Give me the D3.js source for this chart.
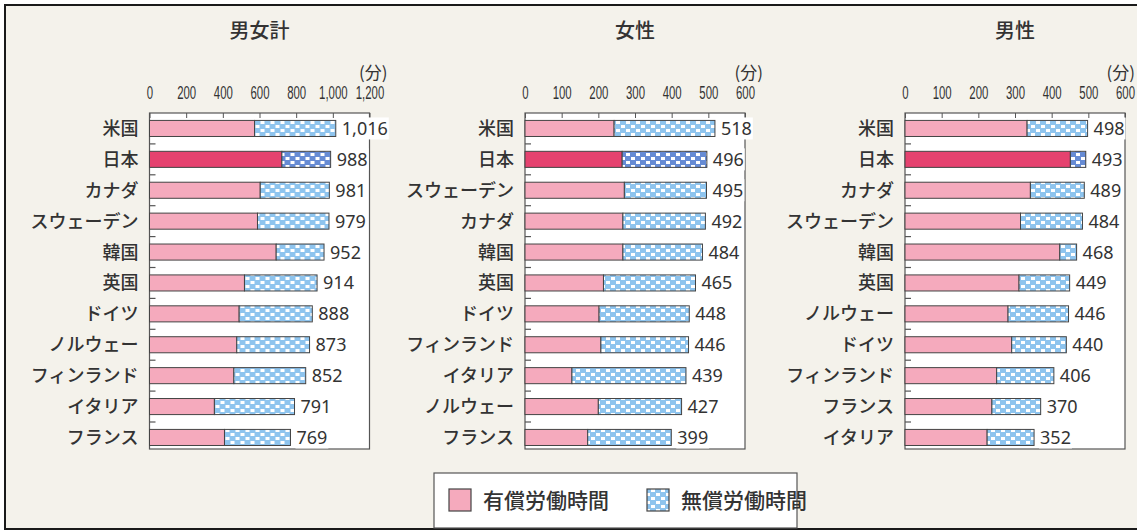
<!DOCTYPE html>
<html>
<head>
<meta charset="utf-8">
<script src="https://cdn.jsdelivr.net/npm/d3@7"></script>
<style>
  body { margin: 0; background: #fff; }
  svg { display: block; }
</style>
</head>
<body>
<div id="chart"></div>
<script>
// data (minutes per day)
const titles = ["男女計", "女性", "男性"];
const unitLabel = "(分)";

const catsAll = ["米国", "日本", "カナダ", "スウェーデン", "韓国", "英国", "ドイツ", "ノルウェー", "フィンランド", "イタリア", "フランス"];
const paidAll = [573, 722, 604, 589, 691, 518, 489, 476, 460, 354, 409];
const totalAll = [1016, 988, 981, 979, 952, 914, 888, 873, 852, 791, 769];

const catsF = ["米国", "日本", "スウェーデン", "カナダ", "韓国", "英国", "ドイツ", "フィンランド", "イタリア", "ノルウェー", "フランス"];
const paidF = [243, 265, 271, 267, 267, 214, 202, 207, 128, 200, 171];
const totalF = [518, 496, 495, 492, 484, 465, 448, 446, 439, 427, 399];

const catsM = ["米国", "日本", "カナダ", "スウェーデン", "韓国", "英国", "ノルウェー", "ドイツ", "フィンランド", "フランス", "イタリア"];
const paidM = [333, 451, 342, 315, 422, 311, 281, 291, 250, 237, 224];
const totalM = [498, 493, 489, 484, 468, 449, 446, 440, 406, 370, 352];

const ticksAll = [0, 200, 400, 600, 800, 1000, 1200];
const ticksHalf = [0, 100, 200, 300, 400, 500, 600];

const legendLabels = ["有償労働時間", "無償労働時間"];
const highlight = "日本";

const W = 1137, H = 531;
const svg = d3.select("#chart").append("svg")
  .attr("width", W).attr("height", H);

// patterns for unpaid work
const defs = svg.append("defs");
function dotPattern(id, bg) {
  const p = defs.append("pattern")
    .attr("id", id)
    .attr("patternUnits", "userSpaceOnUse")
    .attr("width", 10).attr("height", 8);
  p.append("rect").attr("width", 10).attr("height", 8).attr("fill", bg);
  p.append("rect").attr("x", 1).attr("y", 1).attr("width", 4).attr("height", 3).attr("fill", "#fff");
  p.append("rect").attr("x", 6).attr("y", 5).attr("width", 4).attr("height", 3).attr("fill", "#fff");
}
dotPattern("dotsLight", "#8ec4ee");
dotPattern("dotsDark", "#668bd4");

// background + frame
svg.append("rect").attr("width", W).attr("height", H).attr("fill", "#fff");
svg.append("rect")
  .attr("x", 5).attr("y", 5).attr("width", W + 10).attr("height", H - 7)
  .attr("fill", "#f4f2eb").attr("stroke", "#1a1a1a").attr("stroke-width", 2);

const panels = [
  {title: titles[0], cats: catsAll, paid: paidAll, total: totalAll, max: 1200, ticks: ticksAll, left: 149.5},
  {title: titles[1], cats: catsF, paid: paidF, total: totalF, max: 600, ticks: ticksHalf, left: 525},
  {title: titles[2], cats: catsM, paid: paidM, total: totalM, max: 600, ticks: ticksHalf, left: 905}
];

const plotW = 220, plotTop = 113, plotBottom = 449;
const textCol = "#333";
const cjk = "'Noto Sans CJK JP', 'Noto Sans', sans-serif";

panels.forEach(function(p) {
  const g = svg.append("g").attr("transform", `translate(${p.left},0)`);

  const x = d3.scaleLinear().domain([0, p.max]).range([0, plotW]);
  const y = d3.scaleBand().domain(p.cats).range([plotTop, plotTop + 11 * 30.9]).paddingInner(0.48).paddingOuter(0.24);

  // plot box
  g.append("rect")
    .attr("x", 0).attr("y", plotTop).attr("width", plotW).attr("height", plotBottom - plotTop)
    .attr("fill", "#fff").attr("stroke", "#555").attr("stroke-width", 1.2);

  // title
  g.append("text")
    .attr("x", plotW / 2).attr("y", 38)
    .attr("text-anchor", "middle")
    .style("font-family", cjk).style("font-size", "20px").style("font-weight", 500)
    .attr("fill", textCol)
    .text(p.title);

  // unit (kept inside the window on the last panel)
  g.append("text")
    .attr("x", Math.min(plotW + 18, W - p.left - 2)).attr("y", 79)
    .attr("text-anchor", "end")
    .style("font-family", cjk).style("font-size", "17px")
    .attr("fill", textCol)
    .text(unitLabel);

  // top axis, ticks pointing into the box
  const ax = g.append("g")
    .attr("transform", `translate(0,${plotTop})`)
    .call(d3.axisTop(x).tickValues(p.ticks).tickSize(-5).tickPadding(14).tickFormat(d3.format(",")));
  ax.select(".domain").remove();
  ax.selectAll("line").attr("stroke", "#555");
  ax.selectAll("text")
    .attr("fill", textCol)
    .style("font-family", "'Liberation Sans', Arial, sans-serif")
    .style("font-size", "19px")
    .attr("transform", "scale(0.6,1)");

  // small ticks on the left between rows
  const bounds = p.cats.slice(1).map(c => y(c) - y.step() * y.paddingInner() / 2);
  g.selectAll(".lt").data(bounds).join("line")
    .attr("x1", 0).attr("x2", 6)
    .attr("y1", d => d).attr("y2", d => d)
    .attr("stroke", "#555").attr("stroke-width", 1.2);

  // category labels
  g.selectAll(".cat").data(p.cats).join("text")
    .attr("x", -11).attr("y", d => y(d) + y.bandwidth() / 2)
    .attr("dy", "0.36em")
    .attr("text-anchor", "end")
    .style("font-family", cjk).style("font-size", "18px").style("font-weight", 500)
    .attr("fill", textCol)
    .text(d => d);

  // paid segment
  g.selectAll(".paid").data(p.cats).join("rect")
    .attr("x", x(0))
    .attr("y", d => y(d))
    .attr("width", (d, i) => x(p.paid[i]) - x(0))
    .attr("height", y.bandwidth())
    .attr("fill", d => d === highlight ? "#e5426f" : "#f5aabd")
    .attr("stroke", "#444").attr("stroke-width", 1);

  // unpaid segment
  g.selectAll(".unpaid").data(p.cats).join("rect")
    .attr("x", (d, i) => x(p.paid[i]))
    .attr("y", d => y(d))
    .attr("width", (d, i) => x(p.total[i]) - x(p.paid[i]))
    .attr("height", y.bandwidth())
    .attr("fill", d => d === highlight ? "url(#dotsDark)" : "url(#dotsLight)")
    .attr("stroke", "#444").attr("stroke-width", 1);

  // total labels with white backing
  const lab = g.selectAll(".val").data(p.cats).join("g")
    .attr("transform", (d, i) => `translate(${x(p.total[i]) + 6},${y(d) + y.bandwidth() / 2})`);
  lab.append("text")
    .attr("dy", "0.36em")
    .style("font-family", "'Noto Sans', sans-serif").style("font-size", "18px")
    .attr("fill", textCol)
    .text((d, i) => d3.format(",")(p.total[i]));
  lab.each(function() {
    const bb = d3.select(this).select("text").node().getBBox();
    d3.select(this).insert("rect", "text")
      .attr("x", bb.x - 1).attr("y", -11).attr("width", bb.width + 2).attr("height", 22)
      .attr("fill", "#fff");
  });
});

// legend
const lg = svg.append("g");
lg.append("rect")
  .attr("x", 434).attr("y", 473).attr("width", 363).attr("height", 55)
  .attr("fill", "#fff").attr("stroke", "#555").attr("stroke-width", 1.2);
const legX = [449, 647];
const legFill = ["#f5aabd", "url(#dotsLight)"];
legendLabels.forEach(function(l, i) {
  lg.append("rect")
    .attr("x", legX[i]).attr("y", 489).attr("width", 22).attr("height", 22)
    .attr("fill", legFill[i]).attr("stroke", "#444").attr("stroke-width", 1.2);
  lg.append("text")
    .attr("x", legX[i] + 34).attr("y", 500).attr("dy", "0.36em")
    .style("font-family", cjk).style("font-size", "21px").style("font-weight", 500)
    .attr("fill", textCol)
    .text(l);
});
</script>
</body>
</html>
